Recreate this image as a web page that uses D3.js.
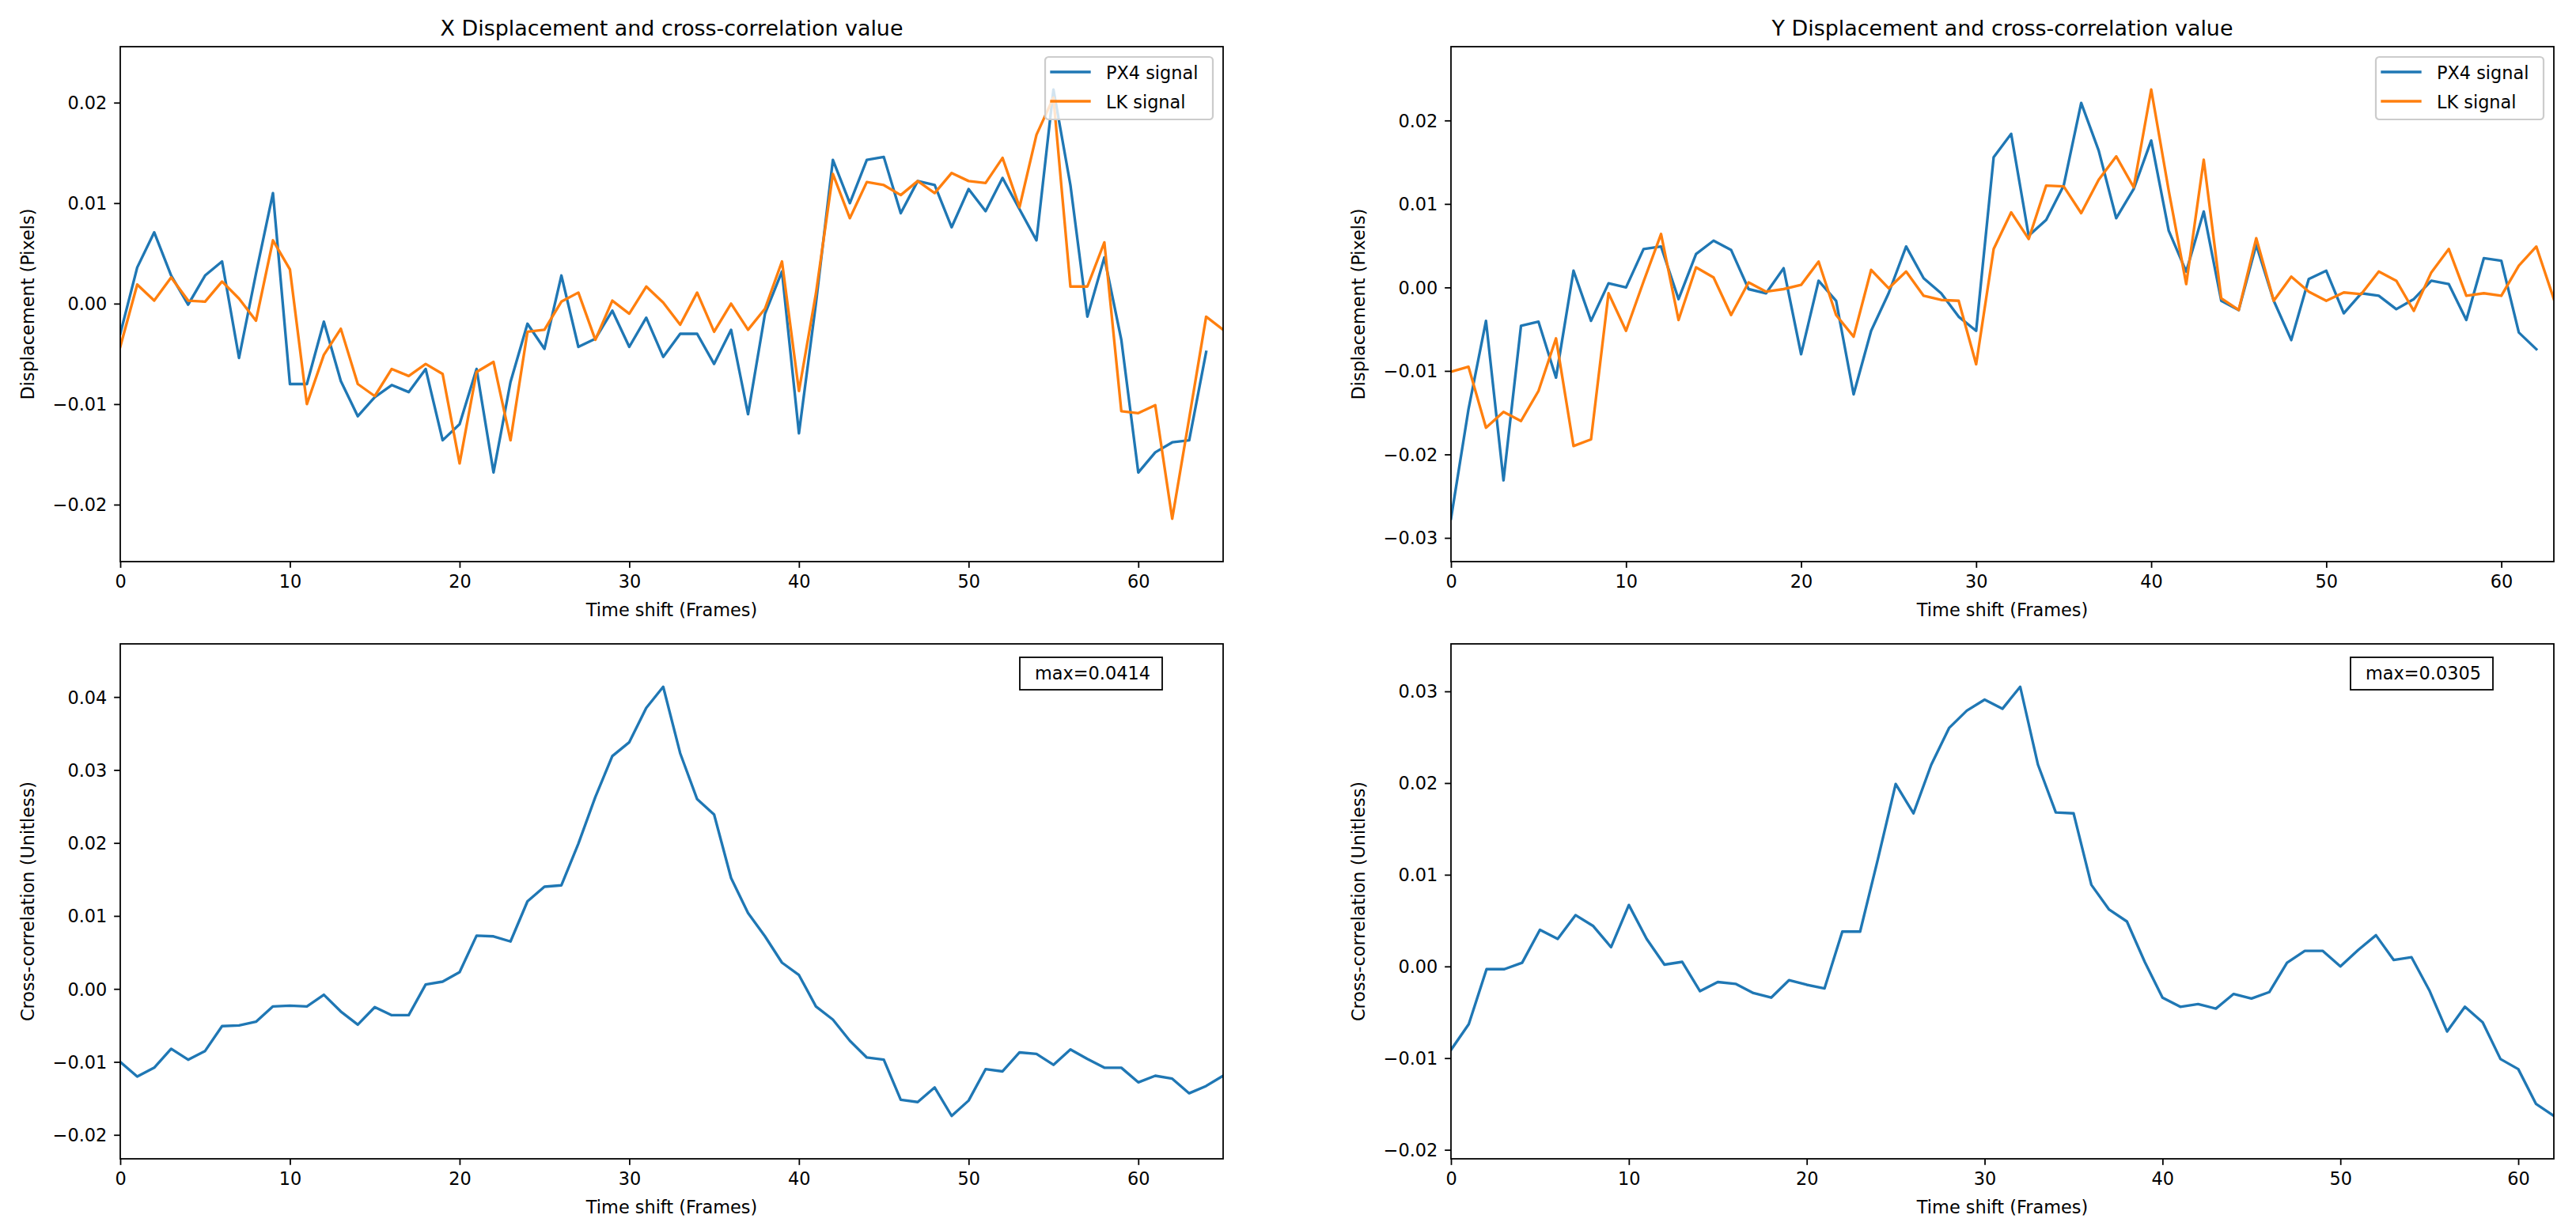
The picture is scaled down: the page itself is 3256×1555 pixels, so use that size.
<!DOCTYPE html>
<html>
<head>
<meta charset="utf-8">
<script src="https://cdn.jsdelivr.net/npm/d3@7"></script>
<style>
  html, body { margin: 0; padding: 0; background: #ffffff; }
  svg { display: block; }
  text { font-family: "DejaVu Sans", sans-serif; fill: #000; }
</style>
</head>
<body>
<svg id="chart" width="3256" height="1555"></svg>
<script>
// ---------------- DATA ----------------
const PX4_X = [-0.0030, 0.0036, 0.0071, 0.0028, -0.0001, 0.0028, 0.0042, -0.0054, 0.0030, 0.0110,
  -0.0080, -0.0080, -0.0018, -0.0077, -0.0112, -0.0093, -0.0081, -0.0088, -0.0065, -0.0136,
  -0.0120, -0.0065, -0.0168, -0.0078, -0.0020, -0.0045, 0.0028, -0.0043, -0.0035, -0.0007,
  -0.0043, -0.0014, -0.0053, -0.0030, -0.0030, -0.0060, -0.0026, -0.0110, -0.0010, 0.0032,
  -0.0129, 0.0000, 0.0143, 0.0100, 0.0143, 0.0146, 0.0090, 0.0122, 0.0118, 0.0076,
  0.0114, 0.0092, 0.0125, 0.0094, 0.0063, 0.0213, 0.0118, -0.0013, 0.0046, -0.0036,
  -0.0168, -0.0148, -0.0138, -0.0136, -0.0048];
const LK_X = [-0.0043, 0.0019, 0.0003, 0.0026, 0.0003, 0.0002, 0.0022, 0.0005, -0.0017, 0.0063,
  0.0034, -0.0100, -0.0051, -0.0025, -0.0080, -0.0092, -0.0065, -0.0072, -0.0060, -0.0070,
  -0.0159, -0.0068, -0.0058, -0.0136, -0.0028, -0.0026, 0.0002, 0.0011, -0.0036, 0.0003,
  -0.0010, 0.0017, 0.0001, -0.0021, 0.0011, -0.0028, 0.0000, -0.0026, -0.0005, 0.0042,
  -0.0087, 0.0010, 0.0129, 0.0085, 0.0121, 0.0118, 0.0108, 0.0122, 0.0110, 0.0130,
  0.0122, 0.0120, 0.0145, 0.0096, 0.0168, 0.0205, 0.0017, 0.0017, 0.0061, -0.0107,
  -0.0109, -0.0101, -0.0214, -0.0114, -0.0013, -0.0026];
const PX4_Y = [-0.0277, -0.0146, -0.0040, -0.0231, -0.0046, -0.0041, -0.0108, 0.0020, -0.0040, 0.0005,
  0.0000, 0.0046, 0.0049, -0.0014, 0.0040, 0.0056, 0.0045, -0.0002, -0.0007, 0.0023,
  -0.0080, 0.0008, -0.0016, -0.0128, -0.0052, -0.0007, 0.0049, 0.0011, -0.0007, -0.0035,
  -0.0052, 0.0156, 0.0184, 0.0062, 0.0081, 0.0122, 0.0221, 0.0164, 0.0083, 0.0118,
  0.0176, 0.0068, 0.0019, 0.0091, -0.0016, -0.0027, 0.0051, -0.0016, -0.0063, 0.0010,
  0.0020, -0.0031, -0.0007, -0.0010, -0.0026, -0.0014, 0.0008, 0.0004, -0.0039, 0.0035,
  0.0032, -0.0054, -0.0074];
const LK_Y = [-0.0101, -0.0095, -0.0168, -0.0149, -0.0160, -0.0124, -0.0061, -0.0190, -0.0182, -0.0007,
  -0.0052, 0.0007, 0.0064, -0.0039, 0.0024, 0.0012, -0.0033, 0.0006, -0.0005, -0.0002,
  0.0003, 0.0031, -0.0033, -0.0059, 0.0021, -0.0001, 0.0019, -0.0010, -0.0015, -0.0016,
  -0.0092, 0.0046, 0.0090, 0.0058, 0.0122, 0.0121, 0.0089, 0.0129, 0.0157, 0.0120,
  0.0237, 0.0116, 0.0004, 0.0153, -0.0013, -0.0027, 0.0059, -0.0016, 0.0013, -0.0005,
  -0.0016, -0.0006, -0.0008, 0.0019, 0.0008, -0.0028, 0.0018, 0.0046, -0.0010, -0.0007,
  -0.0010, 0.0026, 0.0049, -0.0014];
const CC_X = [-0.0100, -0.0120, -0.0108, -0.0082, -0.0097, -0.0085, -0.0051, -0.0050, -0.0045, -0.0024,
  -0.0023, -0.0024, -0.0008, -0.0031, -0.0049, -0.0025, -0.0036, -0.0036, 0.0006, 0.0010,
  0.0023, 0.0073, 0.0072, 0.0065, 0.0120, 0.0140, 0.0142, 0.0199, 0.0263, 0.0319,
  0.0338, 0.0385, 0.0414, 0.0323, 0.0260, 0.0239, 0.0152, 0.0104, 0.0072, 0.0036,
  0.0019, -0.0024, -0.0042, -0.0071, -0.0094, -0.0097, -0.0152, -0.0155, -0.0135, -0.0174,
  -0.0153, -0.0110, -0.0113, -0.0087, -0.0089, -0.0104, -0.0083, -0.0096, -0.0108, -0.0108,
  -0.0128, -0.0119, -0.0123, -0.0143, -0.0133, -0.0119];
const CC_Y = [-0.0091, -0.0063, -0.0003, -0.0003, 0.0004, 0.0040, 0.0030, 0.0056, 0.0044, 0.0021,
  0.0067, 0.0030, 0.0002, 0.0005, -0.0027, -0.0017, -0.0019, -0.0029, -0.0034, -0.0015,
  -0.0020, -0.0024, 0.0038, 0.0038, 0.0117, 0.0199, 0.0167, 0.0220, 0.0260, 0.0279,
  0.0291, 0.0281, 0.0305, 0.0220, 0.0168, 0.0167, 0.0089, 0.0062, 0.0049, 0.0005,
  -0.0034, -0.0044, -0.0041, -0.0046, -0.0030, -0.0035, -0.0028, 0.0004, 0.0017, 0.0017,
  0.0000, 0.0018, 0.0034, 0.0007, 0.0010, -0.0026, -0.0071, -0.0044, -0.0061, -0.0101,
  -0.0112, -0.0150, -0.0163];

const X_TICKS = [0, 10, 20, 30, 40, 50, 60];
const Y_TICKS_DX = [-0.02, -0.01, 0.00, 0.01, 0.02];
const Y_TICKS_DY = [-0.03, -0.02, -0.01, 0.00, 0.01, 0.02];
const Y_TICKS_CX = [-0.02, -0.01, 0.00, 0.01, 0.02, 0.03, 0.04];
const Y_TICKS_CY = [-0.02, -0.01, 0.00, 0.01, 0.02, 0.03];

const TITLES = ["X Displacement and cross-correlation value", "Y Displacement and cross-correlation value"];
const SERIES_NAMES = ["PX4 signal", "LK signal"];
const X_LABEL = "Time shift (Frames)";
const Y_LABEL_DISP = "Displacement (Pixels)";
const Y_LABEL_CC = "Cross-correlation (Unitless)";

// ---------------- STYLE / LAYOUT ----------------
const BLUE = "#1f77b4", ORANGE = "#ff7f0e";
const PT = 2.24;               // px per point
const FS = 10 * PT;            // base font size
const AX_W = 1394, AX_H = 651;

const svg = d3.select("#chart");
svg.append("rect").attr("width", 3256).attr("height", 1555).attr("fill", "#fff");

const panels = [
  { left: 152, top: 59, title: TITLES[0], ylabel: Y_LABEL_DISP, yticks: Y_TICKS_DX,
    series: [{ d: PX4_X, c: BLUE, n: SERIES_NAMES[0] }, { d: LK_X, c: ORANGE, n: SERIES_NAMES[1] }], legend: true },
  { left: 1834, top: 59, title: TITLES[1], ylabel: Y_LABEL_DISP, yticks: Y_TICKS_DY,
    series: [{ d: PX4_Y, c: BLUE, n: SERIES_NAMES[0] }, { d: LK_Y, c: ORANGE, n: SERIES_NAMES[1] }], legend: true },
  { left: 152, top: 814, ylabel: Y_LABEL_CC, yticks: Y_TICKS_CX,
    series: [{ d: CC_X, c: BLUE }], maxBox: true },
  { left: 1834, top: 814, ylabel: Y_LABEL_CC, yticks: Y_TICKS_CY,
    series: [{ d: CC_Y, c: BLUE }], maxBox: true }
];

const fmtY = d3.format(".2f");
const fmtMax = d3.format(".4f");

panels.forEach((p, pi) => {
  const g = svg.append("g").attr("transform", `translate(${p.left},${p.top})`);
  const xMax = d3.max(p.series, s => s.d.length - 1);
  const allVals = p.series.flatMap(s => s.d);
  const lo = d3.min(allVals), hi = d3.max(allVals);
  const pad = 0.1 * (hi - lo);
  const x = d3.scaleLinear().domain([0, xMax]).range([0, AX_W]);
  const y = d3.scaleLinear().domain([lo - pad, hi + pad]).range([AX_H, 0]);

  const clipId = "clip" + pi;
  g.append("clipPath").attr("id", clipId).append("rect")
    .attr("width", AX_W).attr("height", AX_H);

  const line = d3.line().x((d, i) => x(i)).y(d => y(d));
  const lg = g.append("g").attr("clip-path", `url(#${clipId})`);
  p.series.forEach(s => {
    lg.append("path").datum(s.d).attr("d", line)
      .attr("fill", "none").attr("stroke", s.c).attr("stroke-width", 1.5 * PT)
      .attr("stroke-linejoin", "round").attr("stroke-linecap", "square");
  });

  // axes
  const xAxis = d3.axisBottom(x).tickValues(X_TICKS).tickFormat(d3.format("d"))
    .tickSizeInner(3.5 * PT).tickSizeOuter(0).tickPadding(3.5 * PT);
  const yAxis = d3.axisLeft(y).tickValues(p.yticks).tickFormat(fmtY)
    .tickSizeInner(3.5 * PT).tickSizeOuter(0).tickPadding(3.5 * PT);

  const gx = g.append("g").attr("transform", `translate(0,${AX_H})`).call(xAxis);
  const gy = g.append("g").call(yAxis);
  [gx, gy].forEach(a => {
    a.select(".domain").remove();
    a.selectAll(".tick line").attr("stroke", "#000").attr("stroke-width", 0.8 * PT);
    a.selectAll(".tick text").attr("font-size", FS).attr("font-family", "DejaVu Sans").attr("fill", "#000");
  });
  gx.selectAll(".tick text").attr("dy", null).attr("y", 3.5 * PT * 2 + 0.5).attr("dominant-baseline", "hanging");
  gy.selectAll(".tick text").attr("dy", "0.35em").attr("x", -(3.5 * PT * 2 + 1));

  // spines
  g.append("rect").attr("width", AX_W).attr("height", AX_H)
    .attr("fill", "none").attr("stroke", "#000").attr("stroke-width", 0.8 * PT);

  // labels
  g.append("text").attr("x", AX_W / 2).attr("y", AX_H + 69)
    .attr("text-anchor", "middle").attr("font-size", FS).text(X_LABEL);
  g.append("text").attr("transform", `translate(-109,${AX_H / 2}) rotate(-90)`)
    .attr("text-anchor", "middle").attr("font-size", FS).text(p.ylabel);
  if (p.title) {
    g.append("text").attr("x", AX_W / 2).attr("y", -14)
      .attr("text-anchor", "middle").attr("font-size", 12 * PT).text(p.title);
  }

  // legend
  if (p.legend) {
    const lw = 212, lh = 79;
    const leg = g.append("g").attr("transform", `translate(${AX_W - 13 - lw},13)`);
    leg.append("rect").attr("width", lw).attr("height", lh).attr("rx", 4.5).attr("ry", 4.5)
      .attr("fill", "#fff").attr("fill-opacity", 0.8)
      .attr("stroke", "#cccccc").attr("stroke-width", 1 * PT);
    p.series.forEach((s, i) => {
      const ly = 19 + i * 37;
      leg.append("line").attr("x1", 8).attr("x2", 56).attr("y1", ly).attr("y2", ly)
        .attr("stroke", s.c).attr("stroke-width", 1.5 * PT).attr("stroke-linecap", "square");
      leg.append("text").attr("x", 77).attr("y", ly + 9).attr("font-size", FS).text(s.n);
    });
  }

  // max text box
  if (p.maxBox) {
    const bw = 180, bh = 41;
    const bx = AX_W - 77 - bw, by = 17;
    const mx = d3.max(p.series[0].d);
    g.append("rect").attr("x", bx).attr("y", by).attr("width", bw).attr("height", bh)
      .attr("fill", "#fff").attr("stroke", "#000").attr("stroke-width", 1.8);
    g.append("text").attr("x", bx + bw / 2 + 2).attr("y", by + 28)
      .attr("text-anchor", "middle").attr("font-size", FS).text("max=" + fmtMax(mx));
  }
});
</script>
</body>
</html>
